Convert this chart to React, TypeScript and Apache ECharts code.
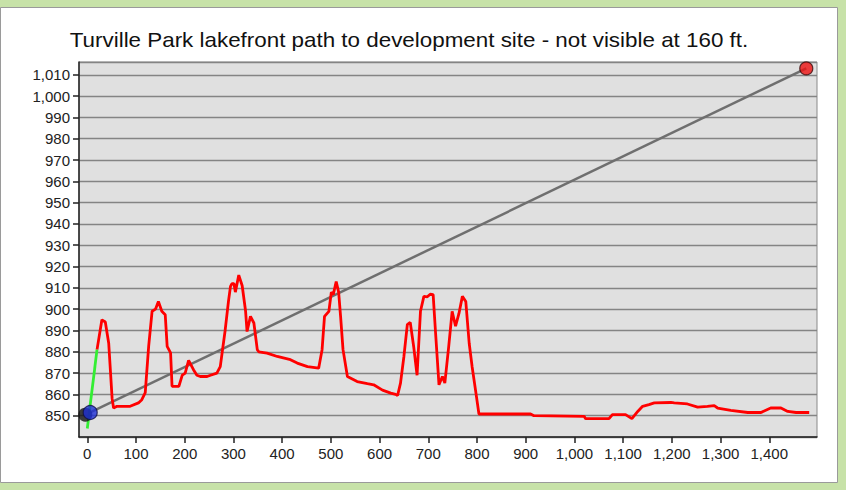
import { useEffect, useRef } from 'react';
import * as echarts from 'echarts';

const TITLE = 'Turville Park lakefront path to development site - not visible at 160 ft.';

const profileDistance = [
  20, 30, 37, 44, 51, 54, 61, 88, 105, 112, 119, 126, 133, 140, 146, 153, 160, 164, 171, 174,
  188, 195, 201, 208, 218, 225, 232, 246, 253, 266, 273, 283, 290, 294, 297, 301, 304, 311, 318, 325,
  328, 335, 342, 349, 352, 369, 390, 417, 431, 452, 475, 482, 487, 496, 501, 505, 511, 516, 520, 525,
  534, 554, 575, 588, 606, 623, 633, 637, 643, 650, 657, 663, 670, 677, 684, 691, 698, 704, 710, 715,
  722, 729, 734, 742, 749, 756, 763, 770, 777, 784, 790, 797, 804, 910, 917, 1020, 1023, 1071, 1078, 1105,
  1118, 1130, 1140, 1153, 1164, 1198, 1205, 1232, 1253, 1273, 1287, 1294, 1321, 1356, 1383, 1403, 1424, 1438, 1455, 1482,
];
const profileElevation = [
  881, 895, 894, 884, 858, 853.6, 854.4, 854.4, 856, 857.5, 860.8, 882.5, 899, 900, 903.6, 899, 897.4, 882.5, 879.5, 863.8,
  863.8, 869, 870, 876, 871.6, 869, 868.4, 868.4, 869, 870, 873, 890, 904, 910.7, 912, 912, 908, 916, 911, 899,
  889.5, 896.6, 893.5, 881, 880, 879.4, 877.8, 876.3, 874.7, 873, 872.3, 881, 896.6, 899, 908, 906.8, 913, 908, 896.6, 881,
  868.4, 866, 865, 864.5, 862, 860.6, 860, 859.5, 865.3, 877.8, 892.7, 893.8, 882.5, 869, 899, 906, 905.8, 907, 906.8, 888.8,
  864.5, 868.4, 865.3, 882.5, 899, 892, 898, 906, 903.6, 884, 873, 862, 850.8, 850.8, 850, 849.7, 848.6, 848.6, 850.5, 850.5,
  848.6, 852, 854.4, 855.2, 856, 856.2, 856, 855.5, 854, 854.4, 854.7, 853.6, 852.5, 851.5, 851.5, 853.6, 853.6, 852, 851.5, 851.5,
];

const visibleDistance = [0, 20];
const visibleElevation = [844, 881];

const sightDistance = [6, 1476];
const sightElevation = [851.5, 1013];

const observerShadow = [-4, 850.5];
const observerPoint = [6, 851.5];
const targetPoint = [1476, 1013];

const xTickValues = [0, 100, 200, 300, 400, 500, 600, 700, 800, 900, 1000, 1100, 1200, 1300, 1400];

const fmt = (v: number) => v.toLocaleString('en-US');

export default function App() {
  const ref = useRef<HTMLDivElement>(null);

  useEffect(() => {
    document.body.style.margin = '0';
    if (!ref.current) return;
    const chart = echarts.init(ref.current, undefined, { renderer: 'svg' });
    const font = 'Liberation Sans, Arial, sans-serif';
    chart.setOption({
      animation: false,
      backgroundColor: '#c7e2a8',
      graphic: [
        {
          type: 'rect',
          z: -10,
          shape: { x: 0.5, y: 7.5, width: 837, height: 475 },
          style: { fill: '#ffffff', stroke: '#9a9a9a', lineWidth: 1 },
          silent: true,
        },
        {
          type: 'text',
          x: 409,
          y: 40,
          scaleX: 1.12,
          style: {
            text: TITLE,
            fontSize: 20,
            fontFamily: font,
            fill: '#111111',
            textAlign: 'center',
            textVerticalAlign: 'middle',
          },
        },
      ],
      grid: {
        left: 79,
        right: 29,
        top: 62,
        bottom: 53,
        show: true,
        backgroundColor: '#e0e0e0',
        borderColor: '#8a8a8a',
        borderWidth: 1,
      },
      xAxis: {
        type: 'value',
        min: -17,
        max: 1498,
        splitLine: { show: false },
        axisLine: { show: true, onZero: false, lineStyle: { color: '#222', width: 1.5 } },
        axisTick: { show: true, length: 6, customValues: xTickValues, lineStyle: { color: '#222', width: 1.5 } },
        axisLabel: {
          customValues: xTickValues,
          formatter: (v: number) => fmt(v),
          fontSize: 15,
          fontFamily: font,
          color: '#222',
          margin: 9,
        },
      },
      yAxis: {
        type: 'value',
        min: 840,
        max: 1016,
        interval: 10,
        splitLine: { show: true, lineStyle: { color: '#848484', width: 1.3 } },
        axisLine: { show: true, onZero: false, lineStyle: { color: '#222', width: 1.5 } },
        axisTick: { show: true, length: 6, lineStyle: { color: '#222', width: 1.5 } },
        axisLabel: {
          showMinLabel: false,
          showMaxLabel: false,
          formatter: (v: number) => (v < 850 || v % 10 !== 0 ? '' : fmt(v)),
          fontSize: 15,
          fontFamily: font,
          color: '#222',
          margin: 9,
        },
      },
      series: [
        {
          type: 'line',
          name: 'sightline',
          data: sightDistance.map((d, i) => [d, sightElevation[i]]),
          showSymbol: false,
          lineStyle: { color: '#6f6f6f', width: 2.5 },
          z: 2,
        },
        {
          type: 'line',
          name: 'profile',
          data: profileDistance.map((d, i) => [d, profileElevation[i]]),
          showSymbol: false,
          lineStyle: { color: '#ff0000', width: 2.8 },
          z: 3,
        },
        {
          type: 'line',
          name: 'visible',
          data: visibleDistance.map((d, i) => [d, visibleElevation[i]]),
          showSymbol: false,
          lineStyle: { color: '#33ee33', width: 2.8 },
          z: 4,
        },
        {
          type: 'scatter',
          data: [observerShadow],
          symbolSize: 14,
          itemStyle: { color: '#111111' },
          z: 5,
        },
        {
          type: 'scatter',
          data: [observerPoint],
          symbolSize: 14,
          itemStyle: { color: '#1f2fd6', borderColor: '#10104a', borderWidth: 1.2 },
          z: 6,
        },
        {
          type: 'scatter',
          data: [targetPoint],
          symbolSize: 13,
          itemStyle: { color: '#ee1111', borderColor: '#3a0a0a', borderWidth: 1.2 },
          z: 6,
        },
      ],
    });
    return () => chart.dispose();
  }, []);

  return (
    <div
      ref={ref}
      style={{ position: 'absolute', left: 0, top: 0, width: 846, height: 490 }}
    />
  );
}
